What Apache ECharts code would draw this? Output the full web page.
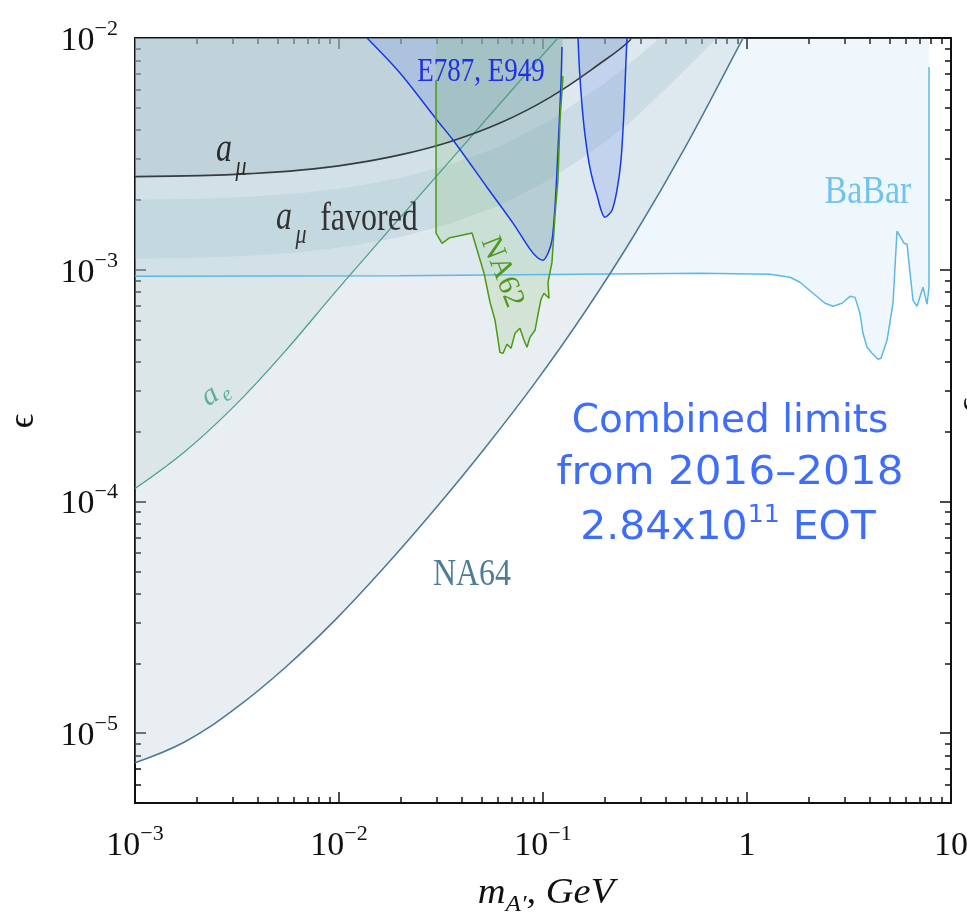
<!DOCTYPE html>
<html>
<head>
<meta charset="utf-8">
<script src="https://cdn.jsdelivr.net/npm/echarts@6/dist/echarts.min.js"></script>
<style>
  html, body { margin: 0; padding: 0; background: #ffffff; }
  #chart { width: 967px; height: 922px; }
</style>
</head>
<body>
<div id="chart"></div>
<script>
// Dark photon A' limits: coupling epsilon versus mass m_A' (GeV), log-log axes.

// ---- tick values ----
const xMajorTicks = [0.001, 0.01, 0.1, 1, 10];
const yMajorTicks = [1e-5, 1e-4, 1e-3, 1e-2];
const minorSteps = [2, 3, 4, 5, 6, 7, 8, 9];
const yLowMinorTicks = [5e-6, 6e-6, 7e-6, 8e-6, 9e-6];

// ---- BaBar ----
const babarX = [0.001, 0.0199, 0.588, 1.30, 1.625, 1.818, 2.107, 2.412, 2.640, 2.922, 3.198, 3.384, 3.579, 3.702, 3.877, 4.101, 4.389, 4.540, 4.858, 5.196, 5.436, 5.886, 6.085, 6.512, 6.813, 7.291, 7.628, 7.802, 7.802];
const babarY = [9.37e-4, 9.42e-4, 9.66e-4, 9.56e-4, 9.28e-4, 8.83e-4, 7.92e-4, 7.17e-4, 6.96e-4, 7.17e-4, 7.68e-4, 7.60e-4, 6.49e-4, 5.32e-4, 4.63e-4, 4.36e-4, 4.11e-4, 4.15e-4, 4.96e-4, 7.17e-4, 1.466e-3, 1.302e-3, 1.289e-3, 7.38e-4, 6.96e-4, 8.40e-4, 7.10e-4, 8.40e-4, 7.49e-3];

// ---- NA64 ----
const na64X = [0.001, 0.001758, 0.003092, 0.005436, 0.009559, 0.01681, 0.02955, 0.05196, 0.09137, 0.1607, 0.2825, 0.4968, 0.945, 0.958];
const na64Y = [7.46e-6, 9.19e-6, 1.276e-5, 1.918e-5, 3.077e-5, 5.24e-5, 9.28e-5, 1.702e-4, 3.25e-4, 6.59e-4, 1.43e-3, 3.365e-3, 9.80e-3, 1.0e-2];

// ---- electron g-2 ----
const aeX = [0.001, 0.001758, 0.003092, 0.005436, 0.009559, 0.01681, 0.02955, 0.05196, 0.09137, 0.1184];
const aeY = [1.138e-4, 1.644e-4, 2.599e-4, 4.445e-4, 7.99e-4, 1.414e-3, 2.491e-3, 4.393e-3, 7.745e-3, 1.0e-2];

// ---- muon g-2 exclusion ----
const amuX = [0.001, 0.00208, 0.003663, 0.00644, 0.01132, 0.01991, 0.03499, 0.0615, 0.1082, 0.1903, 0.2670, 0.2688];
const amuY = [2.522e-3, 2.547e-3, 2.598e-3, 2.690e-3, 2.856e-3, 3.131e-3, 3.571e-3, 4.295e-3, 5.547e-3, 7.76e-3, 9.78e-3, 1.0e-2];

// ---- muon g-2 favored band ----
const favoredX  = [0.001, 0.00208, 0.003663, 0.00644, 0.01132, 0.01991, 0.03499, 0.0615, 0.1082, 0.1903, 0.2670, 0.3746, 0.5256, 0.7126];
const favoredHi = [2.005e-3, 2.025e-3, 2.065e-3, 2.139e-3, 2.270e-3, 2.489e-3, 2.839e-3, 3.415e-3, 4.410e-3, 6.17e-3, 7.78e-3, 1.0e-2, 1.0e-2, 1.0e-2];
const favoredLo = [1.115e-3, 1.126e-3, 1.148e-3, 1.189e-3, 1.262e-3, 1.384e-3, 1.578e-3, 1.898e-3, 2.452e-3, 3.43e-3, 4.32e-3, 5.73e-3, 7.64e-3, 1.0e-2];

// ---- E787, E949 ----
const e787aX = [0.01372, 0.01991, 0.03023, 0.03622, 0.05314, 0.07126, 0.08634, 0.09346, 0.1, 0.1058, 0.1107, 0.1145, 0.1184, 0.1225, 0.1239];
const e787aY = [1.0e-2, 7.06e-3, 4.42e-3, 3.63e-3, 2.27e-3, 1.589e-3, 1.227e-3, 1.132e-3, 1.099e-3, 1.178e-3, 1.341e-3, 1.862e-3, 3.28e-3, 6.39e-3, 9.14e-3];
const e787bX = [0.1485, 0.1510, 0.1553, 0.1607, 0.1700, 0.1839, 0.2013, 0.2179, 0.2305, 0.2412, 0.2495, 0.2552, 0.2581];
const e787bY = [1.0e-2, 7.27e-3, 5.14e-3, 3.81e-3, 2.744e-3, 2.099e-3, 1.686e-3, 1.807e-3, 2.205e-3, 2.972e-3, 4.887e-3, 8.03e-3, 1.0e-2];

// ---- NA62 ----
const na62X = [0.0299, 0.0299, 0.0320, 0.0346, 0.0449, 0.0514, 0.0550, 0.0582, 0.0615, 0.0637, 0.0666, 0.0697, 0.0729, 0.0771, 0.0807, 0.0835, 0.0863, 0.0914, 0.0945, 0.0978, 0.1011, 0.1070, 0.1058, 0.1107, 0.1145, 0.1184, 0.1212, 0.1253];
const na62Y = [6.58e-3, 1.44e-3, 1.30e-3, 1.37e-3, 1.44e-3, 9.66e-4, 7.24e-4, 6.05e-4, 4.40e-4, 4.36e-4, 4.77e-4, 4.58e-4, 5.32e-4, 5.59e-4, 4.96e-4, 4.63e-4, 5.11e-4, 5.48e-4, 6.42e-4, 7.46e-4, 7.92e-4, 7.53e-4, 8.83e-4, 1.077e-3, 1.72e-3, 2.44e-3, 4.42e-3, 6.85e-3];

// ---- helpers ----
const serif = '"Liberation Serif", "DejaVu Serif", serif';
const pairs = (xs, ys) => xs.map((x, i) => [x, ys[i]]);

const xMinorTicks = [];
xMajorTicks.slice(0, -1).forEach(d => minorSteps.forEach(m => xMinorTicks.push(+(d * m).toPrecision(3))));
const yMinorTicks = yLowMinorTicks.slice();
yMajorTicks.slice(0, -1).forEach(d => minorSteps.forEach(m => yMinorTicks.push(+(d * m).toPrecision(3))));

function powerLabel(v) {
  const e = Math.round(Math.log10(v));
  if (e === 0) return '{b|1}';
  if (e === 1) return '{b|10}';
  return '{b|10}{s|' + (e < 0 ? '\u2212' : '') + Math.abs(e) + '}';
}
const labelRich = {
  b: { fontFamily: serif, fontSize: 34, lineHeight: 40, color: '#111', verticalAlign: 'bottom' },
  s: { fontFamily: serif, fontSize: 22, lineHeight: 24, color: '#111', verticalAlign: 'top' }
};

function axis(kind, position, ticks, len, withLine, labels) {
  const isX = kind === 'x';
  return {
    type: 'log', logBase: 10,
    min: isX ? 0.001 : 5e-6,
    max: isX ? 10 : 0.01,
    position: position,
    gridIndex: 0,
    silent: true,
    axisLine: { show: withLine, onZero: false, lineStyle: { color: '#111', width: 2 } },
    axisTick: { show: true, inside: true, length: len, customValues: ticks,
                lineStyle: { color: '#111', width: 1.5 } },
    minorTick: { show: false },
    splitLine: { show: false },
    minorSplitLine: { show: false },
    axisLabel: labels ? {
      show: true, customValues: labels, formatter: powerLabel, margin: isX ? 20 : 17,
      rich: labelRich
    } : { show: false }
  };
}

function region(xs, ys, lineColor, lineWidth, fill, smooth) {
  return {
    type: 'line', xAxisIndex: 0, yAxisIndex: 0,
    data: pairs(xs, ys),
    symbol: 'none', showSymbol: false, silent: true, clip: true,
    smooth: smooth || false,
    lineStyle: { color: lineColor, width: lineWidth },
    areaStyle: { color: fill, origin: 'end', opacity: 1 }
  };
}

function txt(text, x, y, font, fill, extra) {
  return Object.assign({
    type: 'text', x: x, y: y, z: 100, silent: true,
    style: { text: text, font: font, fill: fill, align: 'center', verticalAlign: 'middle' }
  }, extra || {});
}

const chart = echarts.init(document.getElementById('chart'), null, { renderer: 'canvas' });

chart.setOption({
  animation: false,
  backgroundColor: '#ffffff',
  grid: { left: 135, right: 16, top: 38, bottom: 119, containLabel: false, outerBoundsMode: 'none' },
  xAxis: [
    axis('x', 'bottom', xMajorTicks, 11, true, xMajorTicks),
    axis('x', 'bottom', xMinorTicks, 6, false, null),
    axis('x', 'top', xMajorTicks, 11, true, null),
    axis('x', 'top', xMinorTicks, 6, false, null)
  ],
  yAxis: [
    axis('y', 'left', yMajorTicks, 11, true, yMajorTicks),
    axis('y', 'left', yMinorTicks, 6, false, null),
    axis('y', 'right', yMajorTicks, 11, true, null),
    axis('y', 'right', yMinorTicks, 6, false, null)
  ],
  series: [
    region(babarX, babarY, '#5db8e8', 1.5, 'rgba(150,200,240,0.15)', false),
    region(na64X, na64Y, '#4a7896', 1.5, 'rgba(180,200,210,0.30)', 0.4),
    region(aeX, aeY, '#4fa08d', 1.3, 'rgba(170,200,205,0.20)', 0.4),
    {
      type: 'custom', coordinateSystem: 'cartesian2d', xAxisIndex: 0, yAxisIndex: 0,
      silent: true,
      data: [[favoredX[0], favoredLo[0]]],
      renderItem: function (params, api) {
        const pts = [];
        for (let i = 0; i < favoredX.length; i++) pts.push(api.coord([favoredX[i], favoredHi[i]]));
        for (let i = favoredX.length - 1; i >= 0; i--) pts.push(api.coord([favoredX[i], favoredLo[i]]));
        const cs = params.coordSys;
        const clipped = echarts.graphic.clipPointsByRect(pts, { x: cs.x, y: cs.y, width: cs.width, height: cs.height });
        return { type: 'polygon', shape: { points: clipped }, style: { fill: 'rgba(140,170,180,0.25)' } };
      }
    },
    region(amuX, amuY, '#363c3f', 1.6, 'rgba(140,170,180,0.25)', 0.4),
    region(e787aX, e787aY, '#1638e8', 1.5, 'rgba(100,130,230,0.20)', 0.3),
    region(e787bX, e787bY, '#1638e8', 1.5, 'rgba(100,130,230,0.20)', 0.3),
    region(na62X, na62Y, '#4c9a14', 1.5, 'rgba(130,190,110,0.20)', false)
  ],
  graphic: [
    // region labels
    txt('a', 224, 150, 'italic 32px ' + serif, '#2b2b2b', { scaleY: 1.25 }),
    txt('\u03bc', 241, 168, 'italic 22px ' + serif, '#2b2b2b', { scaleY: 1.2 }),
    txt('a', 284, 218, 'italic 32px ' + serif, '#333333', { scaleY: 1.25 }),
    txt('\u03bc', 301, 236, 'italic 22px ' + serif, '#333333', { scaleY: 1.2 }),
    txt('favored', 369, 220, '32px ' + serif, '#333333', { scaleY: 1.22 }),
    txt('E787, E949', 481, 72, '27px ' + serif, '#1f2ee8', { scaleY: 1.25 }),
    txt('BaBar', 868, 192, '34px ' + serif, '#6fc3ec', { scaleY: 1.2 }),
    txt('NA64', 472, 575, '32px ' + serif, '#4e7d9a', { scaleY: 1.2 }),
    txt('NA62', 502, 272, '30px ' + serif, '#4f9a1e', { rotation: -1.2 }),
    txt('a', 210, 396, 'italic 30px ' + serif, '#5fae98', { rotation: 0.6 }),
    txt('e', 227, 395, 'italic 21px ' + serif, '#5fae98', { rotation: 0.6 }),
    // axis titles
    txt('\u03f5', 24, 421, '36px ' + serif, '#111111', { rotation: Math.PI / 2 }),
    txt('\u03f5', 972, 405, '36px ' + serif, '#111111', { rotation: Math.PI / 2 }),
    {
      type: 'text', x: 546, y: 896, z: 100, silent: true, scaleX: 1.1,
      style: {
        text: '{m|m}{s|A\u2032}{g|, GeV}', align: 'center', verticalAlign: 'middle',
        rich: {
          m: { font: 'italic 35px ' + serif, fill: '#111', lineHeight: 40, verticalAlign: 'top' },
          s: { font: 'italic 23px ' + serif, fill: '#111', lineHeight: 24, verticalAlign: 'bottom' },
          g: { font: 'italic 35px ' + serif, fill: '#111', lineHeight: 40, verticalAlign: 'top' }
        }
      }
    },
    // run summary
    txt('Combined limits', 730, 422, '39px "DejaVu Sans", sans-serif', '#3e6dfc'),
    txt('from 2016\u20132018', 730, 474, '39px "DejaVu Sans", sans-serif', '#3e6dfc', { scaleX: 1.08 }),
    {
      type: 'text', x: 728, y: 526, z: 100, silent: true, scaleX: 1.05,
      style: {
        text: '{t|2.84x10}{s|11}{t| EOT}', align: 'center', verticalAlign: 'middle',
        rich: {
          t: { font: '39px "DejaVu Sans", sans-serif', fill: '#3e6dfc', lineHeight: 44, verticalAlign: 'bottom' },
          s: { font: '24px "DejaVu Sans", sans-serif', fill: '#3e6dfc', lineHeight: 26, verticalAlign: 'top' }
        }
      }
    }
  ]
});
</script>
</body>
</html>
